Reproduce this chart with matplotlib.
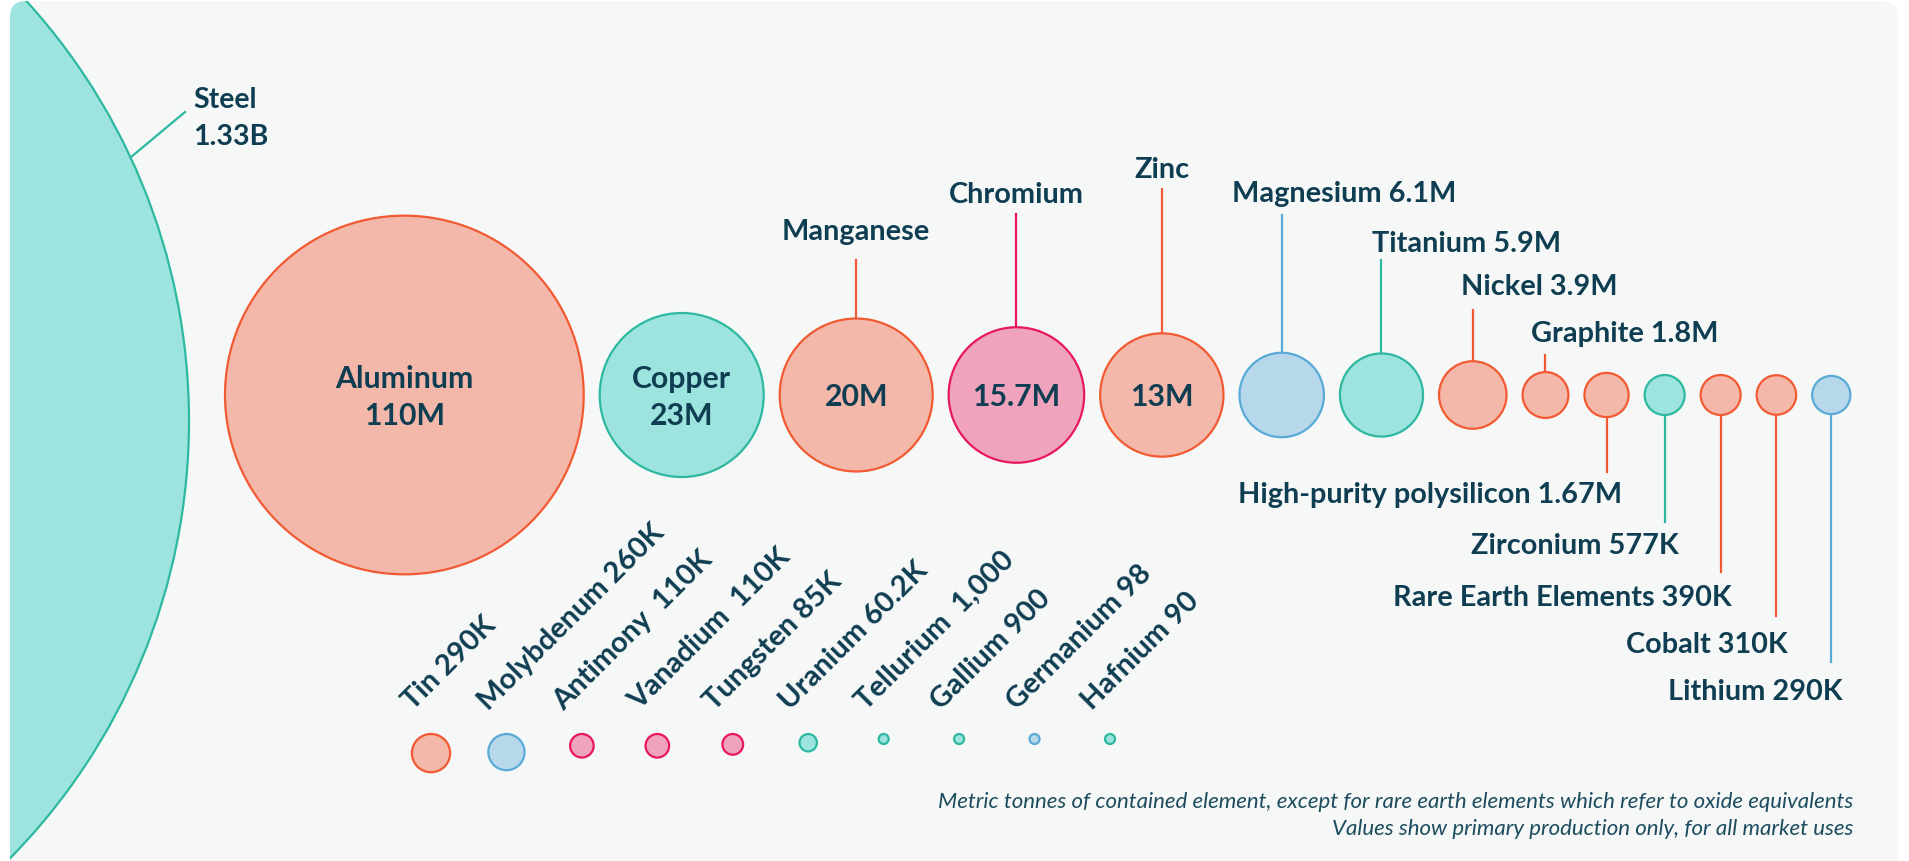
import numpy as np
import matplotlib
matplotlib.use("Agg")
import matplotlib.pyplot as plt
from matplotlib.patches import Circle, FancyBboxPatch

# ---- data (metric tonnes per year) ----
steel_name = "Steel"
steel_value = 1.33e9
steel_label = "1.33B"

top_names = ["Aluminum", "Copper", "Manganese", "Chromium", "Zinc", "Magnesium",
             "Titanium", "Nickel", "Graphite", "High-purity polysilicon",
             "Zirconium", "Rare Earth Elements", "Cobalt", "Lithium"]
top_values = [110e6, 23e6, 20e6, 15.7e6, 13e6, 6.1e6, 5.9e6, 3.9e6, 1.8e6,
              1.67e6, 577e3, 390e3, 310e3, 290e3]
top_labels = ["110M", "23M", "20M", "15.7M", "13M", "6.1M", "5.9M", "3.9M",
              "1.8M", "1.67M", "577K", "390K", "310K", "290K"]

bottom_names = ["Tin", "Molybdenum", "Antimony ", "Vanadium ", "Tungsten",
                "Uranium", "Tellurium ", "Gallium", "Germanium", "Hafnium"]
bottom_values = [290e3, 260e3, 110e3, 110e3, 85e3, 60.2e3, 1000, 900, 98, 90]
bottom_labels = ["290K", "260K", "110K", "110K", "85K", "60.2K", "1,000",
                 "900", "98", "90"]

notes = ["Metric tonnes of contained element, except for rare earth elements which refer to oxide equivalents",
         "Values show primary production only, for all market uses"]

# ---- styles ----
PAL = {"teal": ("#9de4df", "#2db89f"),
       "orange": ("#f3b8aa", "#f15a32"),
       "pink": ("#f0a3bd", "#e8185e"),
       "blue": ("#b7d7ea", "#5aaad8")}
steel_color = "teal"
top_colors = ["orange", "teal", "orange", "pink", "orange", "blue", "teal",
              "orange", "orange", "orange", "teal", "orange", "orange", "blue"]
bottom_colors = ["orange", "blue", "pink", "pink", "pink", "teal", "teal",
                 "teal", "blue", "teal"]
TXT = "#0f3d51"
FONT = "Lato"

# label layout for the top row
top_mode = ["in2", "in2", "above_c", "above_c", "above_c", "above", "above",
            "above", "above", "below", "below", "below", "below", "below"]
lead_end = [0, 0, 261, 215, 190, 216, 261, 311, 356, 473, 523, 573, 617, 663]
lab_y = [0, 0, 240, 203, 178, 202, 252, 295, 342, 503, 554, 606, 653, 700]
lab_dx = [0, 0, 0, 0, 0, -50, -9, -12, -14, 16, 14, 11, 11, 11]

K_BIG, K_SMALL = 17.1, 35.5


def radius(v):
    # sqrt (area) scale; small producers drawn on an enlarged sqrt scale
    big = K_BIG * np.sqrt(v / 1e6)
    if big >= 20:
        return big
    return max(min(K_SMALL * np.sqrt(v / 1e6), 20), 5)


W, H = 1909, 862
fig = plt.figure(figsize=(W / 100, H / 100), dpi=100)
fig.patch.set_facecolor("white")
ax = fig.add_axes([0, 0, 1, 1])
ax.set_xlim(0, W)
ax.set_ylim(H, 0)
ax.axis("off")

card = FancyBboxPatch((10, 2), 1888, 880, boxstyle="round,pad=0,rounding_size=16",
                      fc="#f6f8f8", ec="none", zorder=0)
ax.add_patch(card)

# steel (mostly off the card)
rs = radius(steel_value)
sx, sy = 189 - rs, 422
fc, ec = PAL[steel_color]
steel = Circle((sx, sy), rs, fc=fc, ec=ec, lw=1.6, zorder=1)
ax.add_patch(steel)
steel.set_clip_path(card)
a = np.radians(25)
p0 = (sx + rs * np.cos(a), sy - rs * np.sin(a))
ax.plot([p0[0], 185], [p0[1], 113], color=ec, lw=1.6, zorder=1)
ax.text(193, 108, steel_name, fontfamily=FONT, fontweight="bold", fontsize=20.5,
        color=TXT, ha="left", va="baseline")
ax.text(193, 145, steel_label, fontfamily=FONT, fontweight="bold", fontsize=20.5,
        color=TXT, ha="left", va="baseline")

# top row, packed left to right
CY, GAP = 396, 16
x = 225
for i, (name, v, lab) in enumerate(zip(top_names, top_values, top_labels)):
    r = radius(v)
    cx = x + r
    x = cx + r + GAP
    fc, ec = PAL[top_colors[i]]
    ax.add_patch(Circle((cx, CY), r, fc=fc, ec=ec, lw=1.6, zorder=2))
    kw = dict(fontfamily=FONT, fontweight="bold", fontsize=20.8, color=TXT, zorder=3)
    mode = top_mode[i]
    if mode == "in2":
        kw["fontsize"] = 21.8
        ax.text(cx, CY - 8, name, ha="center", va="baseline", **kw)
        ax.text(cx, CY + 29, lab, ha="center", va="baseline", **kw)
    elif mode == "above_c":
        ax.plot([cx, cx], [CY - r, lead_end[i]], color=ec, lw=1.6, zorder=1)
        ax.text(cx, lab_y[i], name, ha="center", va="baseline", **kw)
        kw["fontsize"] = 21.8
        ax.text(cx, CY + 10, lab, ha="center", va="baseline", **kw)
    elif mode == "above":
        ax.plot([cx, cx], [CY - r, lead_end[i]], color=ec, lw=1.6, zorder=1)
        ax.text(cx + lab_dx[i], lab_y[i], name + " " + lab, ha="left",
                va="baseline", **kw)
    else:
        ax.plot([cx, cx], [CY + r, lead_end[i]], color=ec, lw=1.6, zorder=1)
        ax.text(cx + lab_dx[i], lab_y[i], name + " " + lab, ha="right",
                va="baseline", **kw)

# bottom row: small producers hanging from a common top line
TOP = 735
bx = np.linspace(431, 1110, len(bottom_names))
for i, (name, v, lab) in enumerate(zip(bottom_names, bottom_values, bottom_labels)):
    r = radius(v)
    fc, ec = PAL[bottom_colors[i]]
    ax.add_patch(Circle((bx[i], TOP + r), r, fc=fc, ec=ec, lw=1.6, zorder=2))
    ax.text(bx[i] - 18, 711, name + " " + lab, rotation=45, rotation_mode="anchor",
            ha="left", va="baseline", fontfamily=FONT, fontweight="bold",
            fontsize=21, color=TXT)

for j, line in enumerate(notes):
    ax.text(1853, 808 + 27 * j, line, ha="right", va="baseline", fontfamily=FONT,
            style="italic", fontsize=16, color="#1d4c5e")

fig.savefig("out.png", dpi=100, facecolor="white")
